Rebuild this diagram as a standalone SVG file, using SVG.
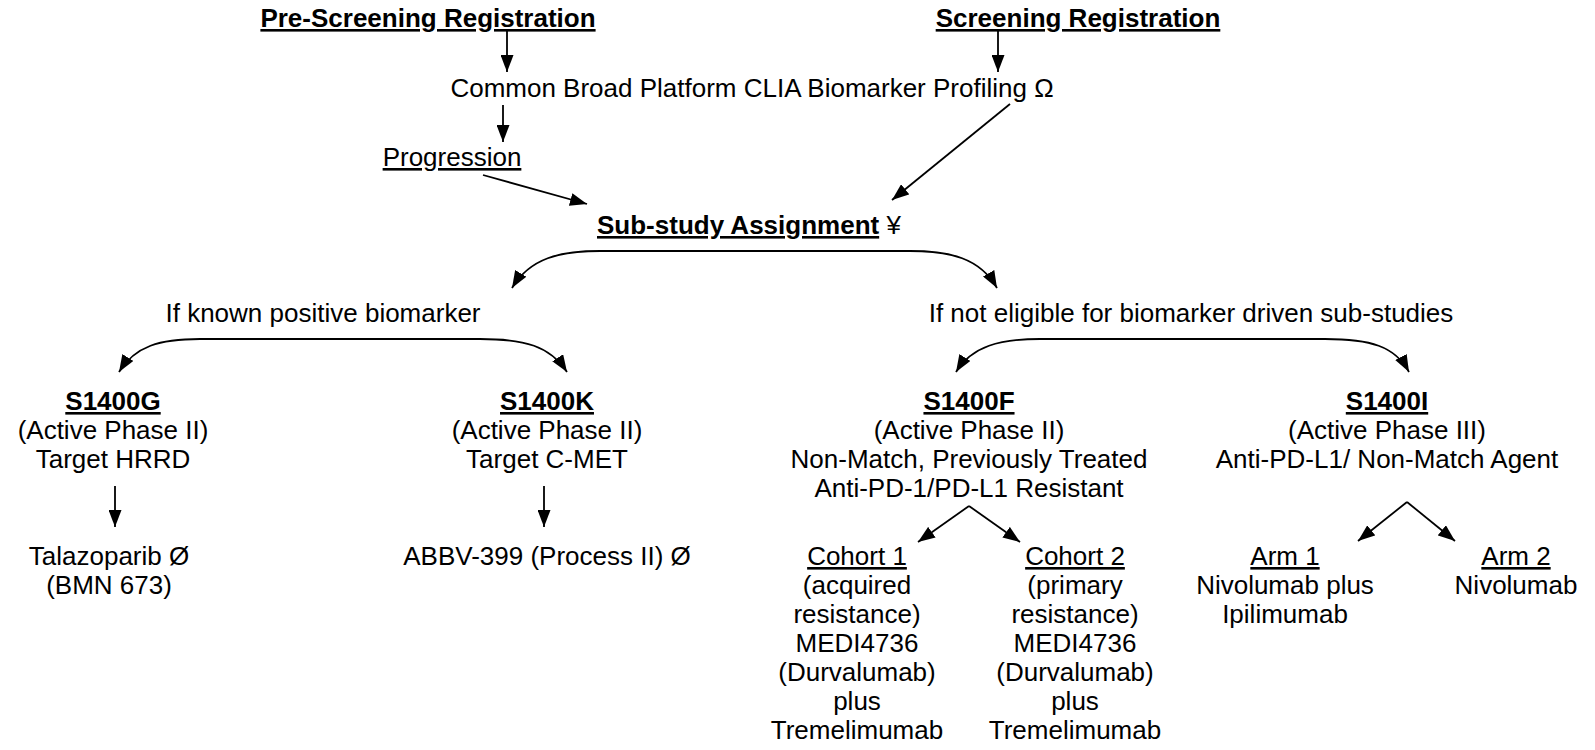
<svg xmlns="http://www.w3.org/2000/svg" width="1595" height="750" viewBox="0 0 1595 750">
<style>
text{font-family:"Liberation Sans",Arial,sans-serif;font-size:26px;fill:#000}
.c{text-anchor:middle}
.b{font-weight:bold}
.u{text-decoration:underline}
.ln{fill:none;stroke:#000;stroke-width:1.8}
</style>
<defs>
<marker id="ah" markerUnits="userSpaceOnUse" markerWidth="17" markerHeight="13" refX="17" refY="6.5" orient="auto">
<path d="M0,0 L17,6.5 L0,13 z" fill="#000"/>
</marker>
</defs>
<rect width="1595" height="750" fill="#fff"/>
<g id="connectors">
<line class="ln" x1="507" y1="30" x2="507" y2="72" marker-end="url(#ah)"/>
<line class="ln" x1="998" y1="30" x2="998" y2="72" marker-end="url(#ah)"/>
<line class="ln" x1="503" y1="105" x2="503" y2="142" marker-end="url(#ah)"/>
<line class="ln" x1="483" y1="175" x2="587" y2="204" marker-end="url(#ah)"/>
<line class="ln" x1="1010" y1="104" x2="892" y2="200" marker-end="url(#ah)"/>
<path class="ln" d="M600,251 C560,251 530,258 512,288" marker-end="url(#ah)"/>
<path class="ln" d="M600,251 L910,251 C950,251 980,258 997,288" marker-end="url(#ah)"/>
<path class="ln" d="M200,339 C160,339 135,346 119,372" marker-end="url(#ah)"/>
<path class="ln" d="M200,339 L480,339 C525,339 550,346 567,372" marker-end="url(#ah)"/>
<path class="ln" d="M1040,339 C1000,339 972,346 956,372" marker-end="url(#ah)"/>
<path class="ln" d="M1040,339 L1325,339 C1370,339 1395,346 1409,372" marker-end="url(#ah)"/>
<line class="ln" x1="115" y1="486" x2="115" y2="527" marker-end="url(#ah)"/>
<line class="ln" x1="544" y1="486" x2="544" y2="527" marker-end="url(#ah)"/>
<line class="ln" x1="969" y1="506" x2="918" y2="542" marker-end="url(#ah)"/>
<line class="ln" x1="969" y1="506" x2="1020" y2="542" marker-end="url(#ah)"/>
<line class="ln" x1="1407" y1="502" x2="1358" y2="541" marker-end="url(#ah)"/>
<line class="ln" x1="1407" y1="502" x2="1455" y2="541" marker-end="url(#ah)"/>
</g>
<g id="pre-screening"><text class="c b u" x="428" y="27">Pre-Screening Registration</text></g>
<g id="screening"><text class="c b u" x="1078" y="27">Screening Registration</text></g>
<g id="profiling"><text class="c" x="752" y="97">Common Broad Platform CLIA Biomarker Profiling Ω</text></g>
<g id="progression"><text class="c u" x="452" y="166">Progression</text></g>
<g id="substudy"><text x="597" y="234"><tspan class="b u">Sub-study Assignment</tspan> ¥</text></g>
<g id="known-positive"><text class="c" x="323" y="322">If known positive biomarker</text></g>
<g id="not-eligible"><text class="c" x="1191" y="322">If not eligible for biomarker driven sub-studies</text></g>
<g id="s1400g">
<text class="c b u" x="113" y="410">S1400G</text>
<text class="c" x="113" y="439">(Active Phase II)</text>
<text class="c" x="113" y="468">Target HRRD</text>
</g>
<g id="talazoparib">
<text class="c" x="109" y="565">Talazoparib Ø</text>
<text class="c" x="109" y="594">(BMN 673)</text>
</g>
<g id="s1400k">
<text class="c b u" x="547" y="410">S1400K</text>
<text class="c" x="547" y="439">(Active Phase II)</text>
<text class="c" x="547" y="468">Target C-MET</text>
</g>
<g id="abbv"><text class="c" x="547" y="565">ABBV-399 (Process II) Ø</text></g>
<g id="s1400f">
<text class="c b u" x="969" y="410">S1400F</text>
<text class="c" x="969" y="439">(Active Phase II)</text>
<text class="c" x="969" y="468">Non-Match, Previously Treated</text>
<text class="c" x="969" y="497">Anti-PD-1/PD-L1 Resistant</text>
</g>
<g id="cohort1">
<text class="c u" x="857" y="565">Cohort 1</text>
<text class="c" x="857" y="594">(acquired</text>
<text class="c" x="857" y="623">resistance)</text>
<text class="c" x="857" y="652">MEDI4736</text>
<text class="c" x="857" y="681">(Durvalumab)</text>
<text class="c" x="857" y="710">plus</text>
<text class="c" x="857" y="739">Tremelimumab</text>
</g>
<g id="cohort2">
<text class="c u" x="1075" y="565">Cohort 2</text>
<text class="c" x="1075" y="594">(primary</text>
<text class="c" x="1075" y="623">resistance)</text>
<text class="c" x="1075" y="652">MEDI4736</text>
<text class="c" x="1075" y="681">(Durvalumab)</text>
<text class="c" x="1075" y="710">plus</text>
<text class="c" x="1075" y="739">Tremelimumab</text>
</g>
<g id="s1400i">
<text class="c b u" x="1387" y="410">S1400I</text>
<text class="c" x="1387" y="439">(Active Phase III)</text>
<text class="c" x="1387" y="468">Anti-PD-L1/ Non-Match Agent</text>
</g>
<g id="arm1">
<text class="c u" x="1285" y="565">Arm 1</text>
<text class="c" x="1285" y="594">Nivolumab plus</text>
<text class="c" x="1285" y="623">Ipilimumab</text>
</g>
<g id="arm2">
<text class="c u" x="1516" y="565">Arm 2</text>
<text class="c" x="1516" y="594">Nivolumab</text>
</g>
</svg>
